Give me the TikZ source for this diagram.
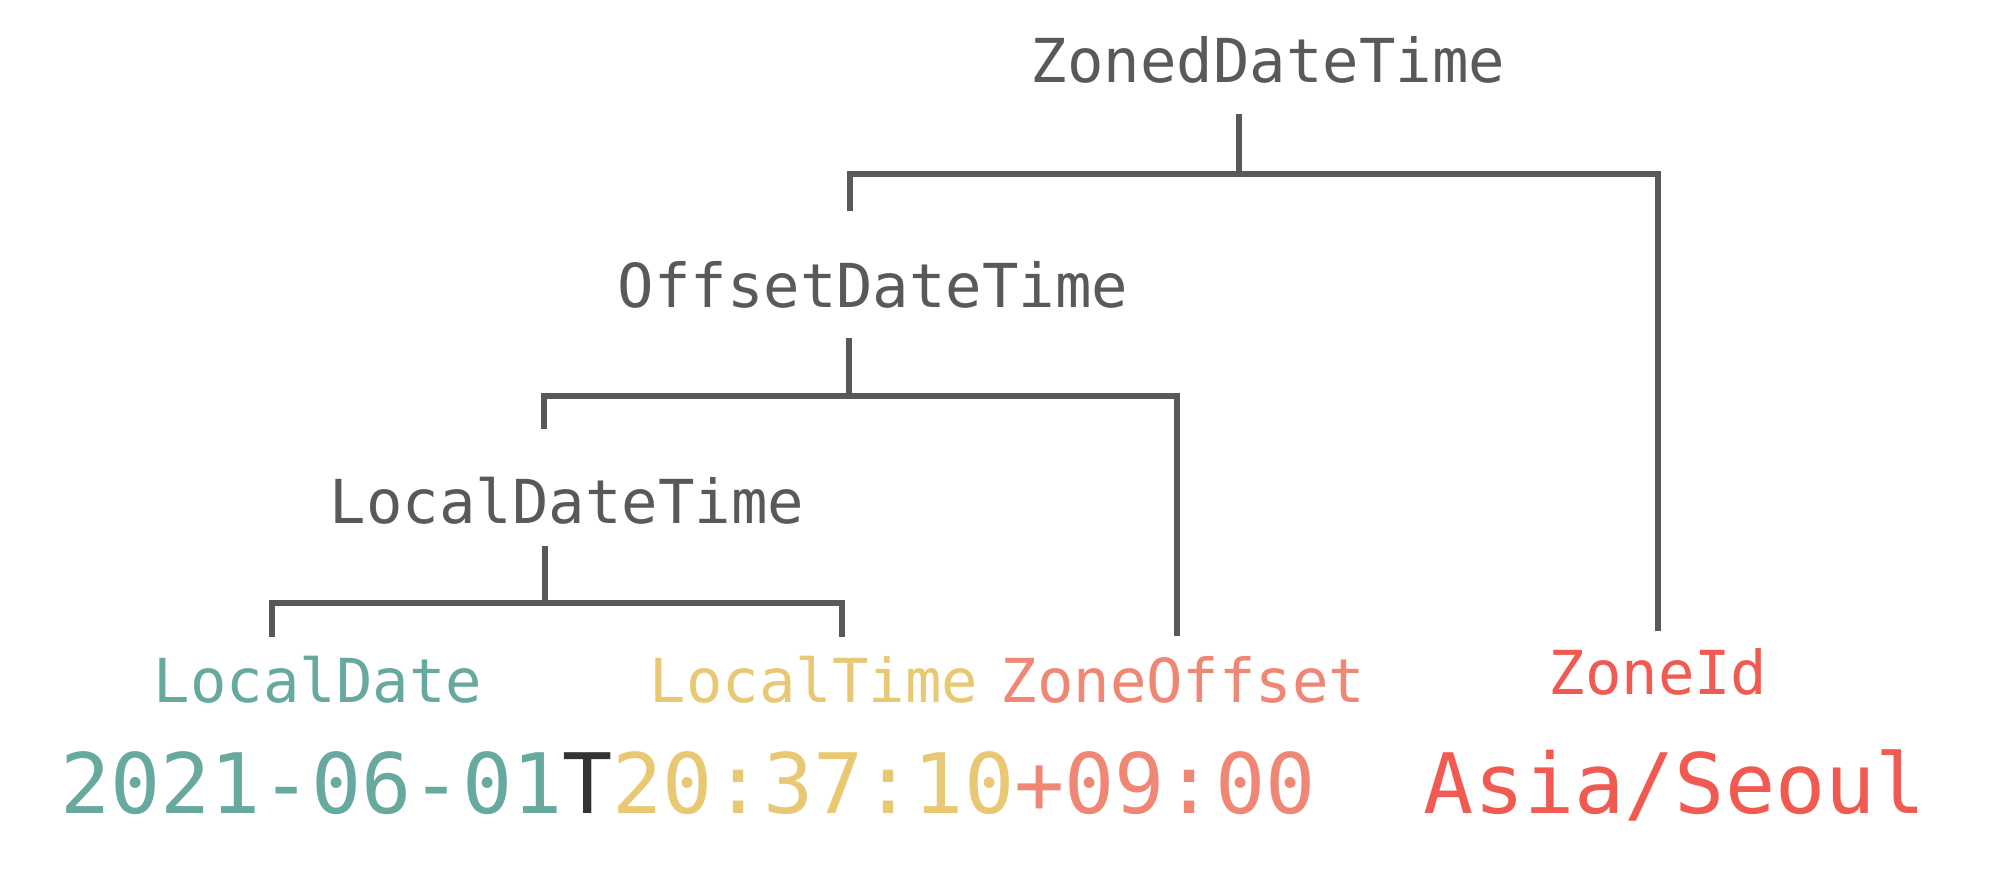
\documentclass[tikz,border=0pt]{standalone}
\usepackage{fontspec}
\newfontfamily\dmono{DejaVu Sans Mono}
\definecolor{linegray}{HTML}{595959}
\definecolor{ldcol}{HTML}{67A89F}
\definecolor{ltcol}{HTML}{E8C872}
\definecolor{zocol}{HTML}{F08674}
\definecolor{zicol}{HTML}{F05A50}
\definecolor{tcol}{HTML}{333333}
\begin{document}
\begin{tikzpicture}[x=0.5pt,y=-0.5pt,
  lbl/.style={font=\dmono\fontsize{30.3}{36}\selectfont, inner sep=0pt, anchor=base},
  bigtxt/.style={font=\dmono\fontsize{41.7}{50}\selectfont, inner sep=0pt, anchor=base},
  conn/.style={draw=linegray, line width=3pt, line cap=butt, line join=miter}]
\useasboundingbox (0,0) rectangle (2002,893);
\fill[white] (0,0) rectangle (2002,893);

% labels
\node[lbl, text=linegray] (zdt) at (1268,83) {ZonedDateTime};
\node[lbl, text=linegray] (odt) at (873,307) {OffsetDateTime};
\node[lbl, text=linegray] (ldt) at (567,523) {LocalDateTime};
\node[lbl, text=ldcol] (ld) at (318,702) {LocalDate};
\node[lbl, text=ltcol] (lt) at (814,702) {LocalTime};
\node[lbl, text=zocol] (zof) at (1183,702) {ZoneOffset};
\node[lbl, text=zicol] (zid) at (1658,694) {ZoneId};

% values
\node[bigtxt] (val) at (688,813) {\textcolor{ldcol}{2021-06-01}\textcolor{tcol}{T}\textcolor{ltcol}{20:37:10}\textcolor{zocol}{+09:00}};
\node[bigtxt, text=zicol] (zval) at (1675,813) {Asia/Seoul};

% connector points
\coordinate (zdt-s) at (1239,114);
\coordinate (zdt-j) at (1239,174);
\coordinate (odt-n) at (850,211);
\coordinate (zid-n) at (1658,631);

\coordinate (odt-s) at (849,338);
\coordinate (odt-j) at (849,396);
\coordinate (ldt-n) at (544,429);
\coordinate (zof-n) at (1177,636);

\coordinate (ldt-s) at (545,546);
\coordinate (ldt-j) at (545,603);
\coordinate (ld-n) at (272,637);
\coordinate (lt-n) at (842,637);

% connectors
\draw[conn] (zdt-s) -- (zdt-j);
\draw[conn] (odt-n) |- (zdt-j) -| (zid-n);

\draw[conn] (odt-s) -- (odt-j);
\draw[conn] (ldt-n) |- (odt-j) -| (zof-n);

\draw[conn] (ldt-s) -- (ldt-j);
\draw[conn] (ld-n) |- (ldt-j) -| (lt-n);
\end{tikzpicture}
\end{document}
